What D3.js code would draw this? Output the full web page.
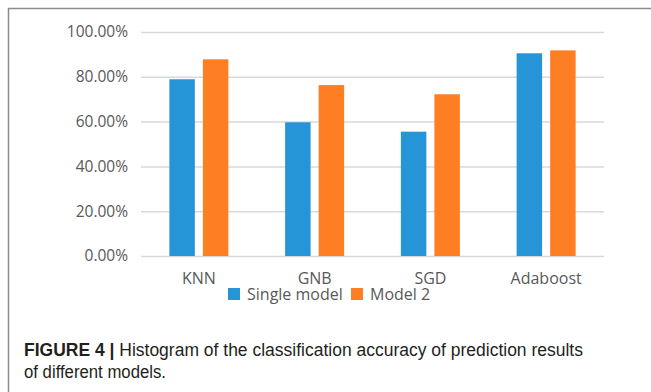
<!DOCTYPE html>
<html>
<head>
<meta charset="utf-8">
<script src="https://cdn.jsdelivr.net/npm/d3@7"></script>
<style>
  html, body { margin: 0; padding: 0; background: #fff; }
  svg { display: block; }
</style>
</head>
<body>
<svg id="chart" width="651" height="392"></svg>
<script>
// Accuracy of each classifier, single model vs. model 2
const categories = ["KNN", "GNB", "SGD", "Adaboost"];
const seriesNames = ["Single model", "Model 2"];
const singleModel = [0.789, 0.597, 0.555, 0.905];
const model2 = [0.878, 0.763, 0.722, 0.918];
const yTicks = [0, 0.2, 0.4, 0.6, 0.8, 1.0];
const colors = ["#2595d8", "#fe7f23"];

const svg = d3.select("#chart");
const margin = { left: 141, right: 47, top: 32, bottom: 136 };
const W = 651, H = 392;

// Figure frame
svg.append("path")
  .attr("d", `M8.5,392 V8.5 H651`)
  .attr("fill", "none")
  .attr("stroke", "#8c8c8c")
  .attr("stroke-width", 1.5);

const x = d3.scaleBand().domain(categories).range([margin.left, W - margin.right]).paddingInner(0).paddingOuter(0);
const y = d3.scaleLinear().domain([0, 1]).range([H - margin.bottom, margin.top]);
const x1 = d3.scaleBand().domain(seriesNames).range([0, 59]).paddingInner(0.24);

// Gridlines and y labels
const yAxis = d3.axisLeft(y).tickValues(yTicks).tickSize(-(W - margin.left - margin.right))
  .tickFormat(d => (d * 100).toFixed(2) + "%").tickPadding(13);
const gy = svg.append("g").attr("transform", `translate(${margin.left},0)`).call(yAxis);
gy.select(".domain").remove();
gy.selectAll(".tick line").attr("stroke", "#d9d9d9").attr("stroke-width", 1.5);
gy.selectAll(".tick text").attr("fill", "#595959")
  .style("font-family", "'Open Sans', sans-serif").style("font-size", "15.5px");

// Bars
const rows = categories.map((c, i) => ({ c, vals: [singleModel[i], model2[i]] }));
const groups = svg.append("g").selectAll("g").data(rows).join("g")
  .attr("transform", d => `translate(${x(d.c) + x.bandwidth() / 2 - 29.5},0)`);
groups.selectAll("rect").data(d => d.vals.map((v, k) => ({ v, k }))).join("rect")
  .attr("x", d => x1(seriesNames[d.k]))
  .attr("width", x1.bandwidth())
  .attr("y", d => y(d.v))
  .attr("height", d => y(0) - y(d.v))
  .attr("fill", d => colors[d.k]);

// Category labels
const xAxis = d3.axisBottom(x).tickSize(0).tickPadding(17);
const gx = svg.append("g").attr("transform", `translate(0,${H - margin.bottom})`).call(xAxis);
gx.select(".domain").remove();
gx.selectAll(".tick text").attr("fill", "#595959")
  .style("font-family", "'Open Sans', sans-serif").style("font-size", "16px");

// Legend
const legend = svg.append("g").attr("transform", "translate(228,288)");
const legendX = [0, 123];
seriesNames.forEach((name, k) => {
  const g = legend.append("g").attr("transform", `translate(${legendX[k]},0)`);
  g.append("rect").attr("width", 12).attr("height", 12).attr("fill", colors[k]);
  g.append("text").attr("x", 19).attr("y", 12)
    .attr("fill", "#595959")
    .style("font-family", "'Open Sans', sans-serif").style("font-size", "16px")
    .text(name);
});

// Caption
const cap = svg.append("g").style("font-family", "'Liberation Sans Narrow', 'Liberation Sans', sans-serif")
  .style("font-size", "17.5px").attr("fill", "#231f20");
const line1 = cap.append("text").attr("x", 24).attr("y", 356)
  .attr("textLength", 559).attr("lengthAdjust", "spacingAndGlyphs");
line1.append("tspan").style("font-weight", "bold").text("FIGURE 4 | ");
line1.append("tspan").text("Histogram of the classification accuracy of prediction results");
cap.append("text").attr("x", 24).attr("y", 378)
  .attr("textLength", 142).attr("lengthAdjust", "spacingAndGlyphs")
  .text("of different models.");
</script>
</body>
</html>
